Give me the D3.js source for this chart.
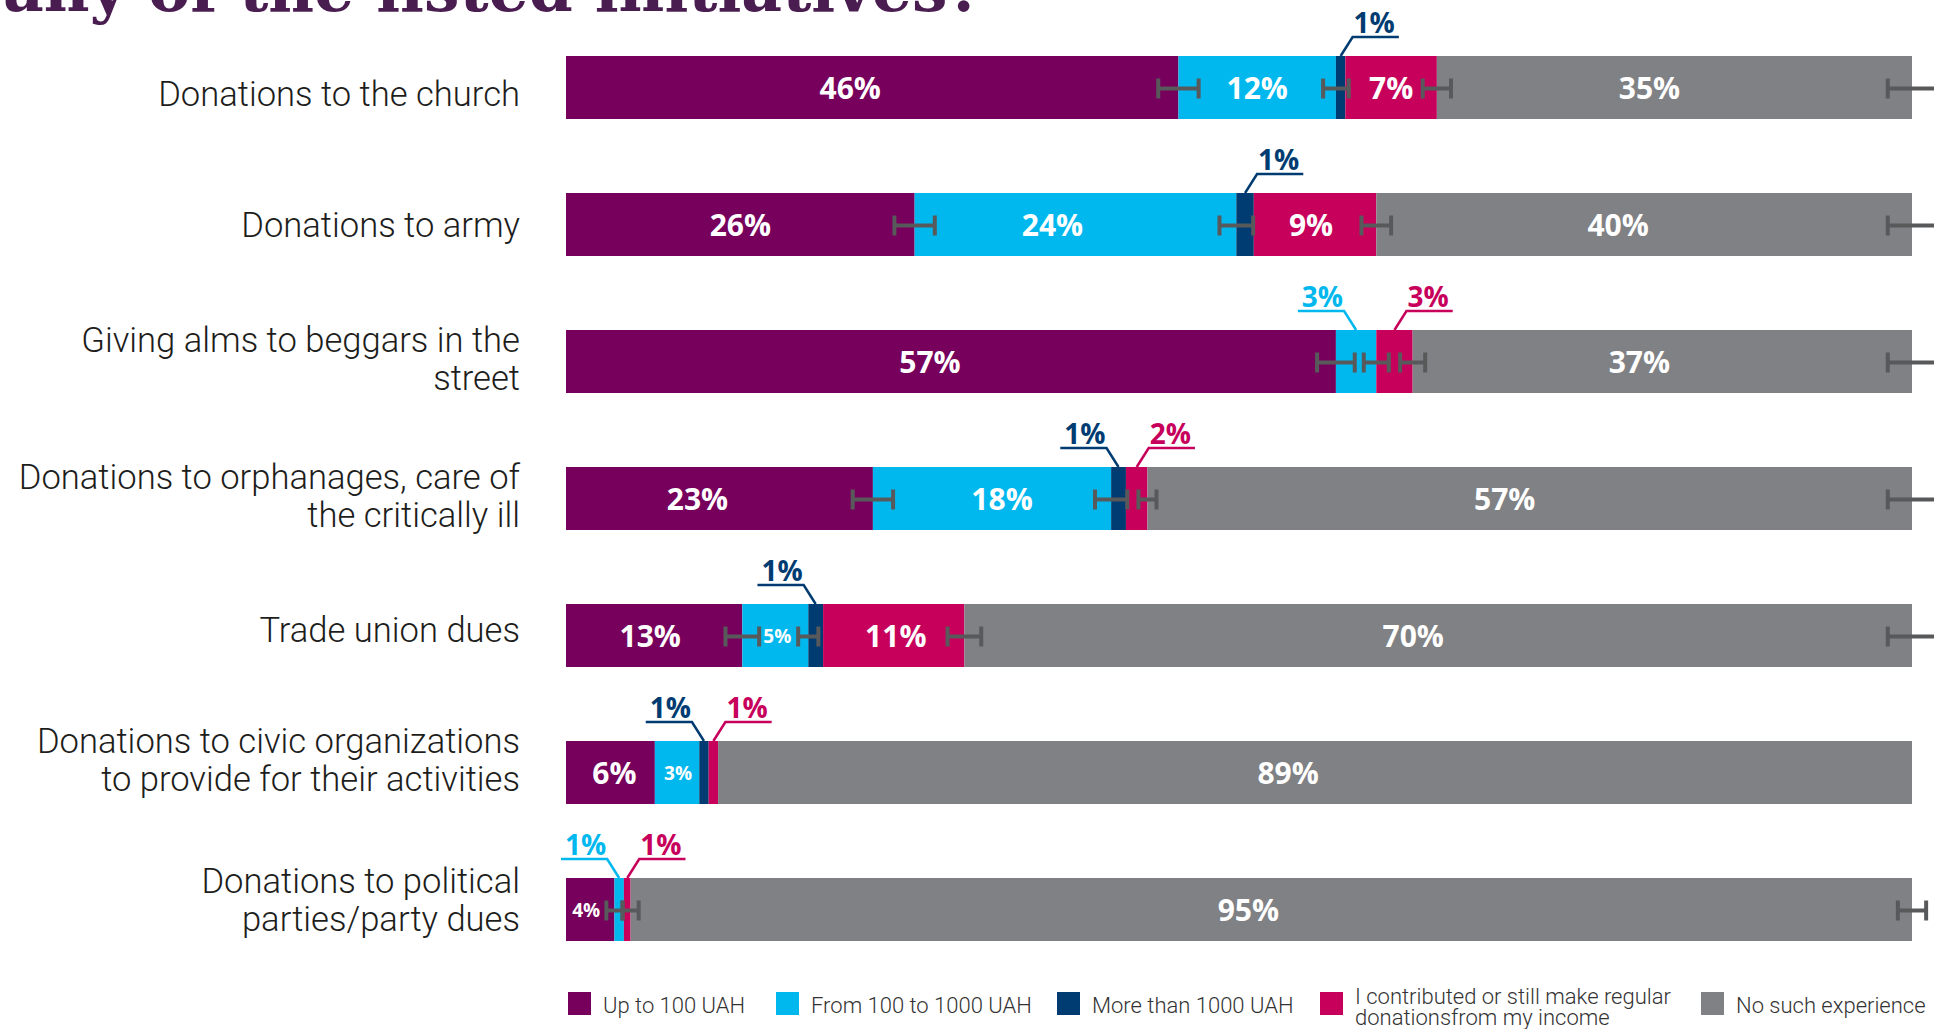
<!DOCTYPE html>
<html>
<head>
<meta charset="utf-8">
<script src="https://cdn.jsdelivr.net/npm/d3@7"></script>
<style>
  html, body { margin: 0; padding: 0; background: #ffffff; overflow: hidden; }
  svg { display: block; }
</style>
</head>
<body>
<div id="chart"></div>
<script>
// ---------------- DATA ----------------
const titleText = "any of the listed initiatives?";

const categories = [
  "Donations to the church",
  "Donations to army",
  "Giving alms to beggars in the\nstreet",
  "Donations to orphanages, care of\nthe critically ill",
  "Trade union dues",
  "Donations to civic organizations\nto provide for their activities",
  "Donations to political\nparties/party dues"
];

const seriesNames = [
  "Up to 100 UAH",
  "From 100 to 1000 UAH",
  "More than 1000 UAH",
  "I contributed or still make regular\ndonationsfrom my income",
  "No such experience"
];

// shares (% of respondents)
const upTo100       = [45.5, 25.9, 57.2, 22.8, 13.1, 6.6, 3.6];
const from100to1000 = [11.7, 23.9, 3.0, 17.7, 4.9, 3.3, 0.7];
const over1000      = [0.7, 1.3, 0.0, 1.1, 1.1, 0.7, 0.0];
const regularIncome = [6.8, 9.1, 2.7, 1.6, 10.5, 0.7, 0.5];
const noExperience  = [35.3, 39.8, 37.1, 56.8, 70.4, 88.7, 95.2];

// printed labels
const labelsUpTo100   = ["46%", "26%", "57%", "23%", "13%", "6%", "4%"];
const labelsFrom100   = ["12%", "24%", "3%", "18%", "5%", "3%", "1%"];
const labelsOver1000  = ["1%", "1%", "", "1%", "1%", "1%", ""];
const labelsRegular   = ["7%", "9%", "3%", "2%", "11%", "1%", "1%"];
const labelsNone      = ["35%", "40%", "37%", "57%", "70%", "89%", "95%"];

// labels printed above the bar with a leader line (side of the leader)
const calloutUpTo100  = [null, null, null, null, null, null, null];
const calloutFrom100  = [null, null, "left", null, null, null, "left"];
const calloutOver1000 = ["right", "right", null, "left", "left", "left", null];
const calloutRegular  = [null, null, "right", "right", null, "right", "right"];
const calloutNone     = [null, null, null, null, null, null, null];

// margins of error (± percentage points) shown at the end of each segment
const moeUpTo100  = [1.5, 1.5, 1.4, 1.5, 1.25, null, 0.6];
const moeFrom100  = [0.95, 1.25, 0.93, 1.2, 0.75, null, null];
const moeOver1000 = [null, null, null, null, null, null, null];
const moeRegular  = [1.05, 1.1, 0.93, 0.67, 1.25, null, 0.6];
const moeNone     = [1.8, 1.8, 1.8, 1.8, 1.8, null, 1.05];

// ---------------- LAYOUT (label nudges, px) ----------------
const nudgeUpTo100 = [-22, 0, -21, -22, -4, 4, -4];
const nudgeFrom100 = [0, -23, 0, 10, 2, 1, 0];
const nudgeOver1000 = [0, 0, 0, 0, 0, 0, 0];
const nudgeRegular = [0, -4, 0, 0, 2, 0, 0];
const nudgeNone = [-25, -26, -23, -25, -25, -27, -23];
const catLabelDy = [0, -6, 0, 0, -12, -10, -7];
const legendX = [568, 776, 1057, 1320, 1701];

// ---------------- BUILD ----------------
const keys = ["s0", "s1", "s2", "s3", "s4"];
const valueArrays = [upTo100, from100to1000, over1000, regularIncome, noExperience];
const labelArrays = [labelsUpTo100, labelsFrom100, labelsOver1000, labelsRegular, labelsNone];
const calloutArrays = [calloutUpTo100, calloutFrom100, calloutOver1000, calloutRegular, calloutNone];
const moeArrays = [moeUpTo100, moeFrom100, moeOver1000, moeRegular, moeNone];
const nudgeArrays = [nudgeUpTo100, nudgeFrom100, nudgeOver1000, nudgeRegular, nudgeNone];
const colors = ["#76005b", "#00b8ee", "#003c71", "#c6005b", "#808184"];

const table = categories.map((c, i) => {
  const row = { idx: i, category: c };
  keys.forEach((k, j) => row[k] = valueArrays[j][i]);
  return row;
});

const W = 1934, H = 1029;
const svg = d3.select("#chart").append("svg").attr("width", W).attr("height", H);

const x = d3.scaleLinear().domain([0, 100]).range([566, 1912]);
const y = d3.scalePoint().domain(d3.range(categories.length)).range([87.5, 909.5]);
const barH = 63;
const color = d3.scaleOrdinal().domain(keys).range(colors);

const stacked = d3.stack().keys(keys)(table);

// Title (cut by the top edge)
svg.append("text")
  .attr("x", 3).attr("y", 11)
  .attr("font-family", "'DejaVu Serif', 'Liberation Serif', serif")
  .attr("font-weight", "bold")
  .attr("font-size", 63)
  .attr("fill", "#4a1d51")
  .text(titleText);

// Category labels
const catG = svg.append("g");
categories.forEach((c, i) => {
  const lines = c.split("\n");
  const t = catG.append("text")
    .attr("text-anchor", "end")
    .attr("font-family", "Roboto, 'Open Sans', sans-serif")
    .attr("font-weight", 300)
    .attr("font-size", 34.6)
    .attr("fill", "#1d1d1b");
  const first = y(i) + 18 + catLabelDy[i] - (lines.length - 1) * 28;
  lines.forEach((ln, k) => {
    t.append("tspan").attr("x", 520).attr("y", first + k * 38).text(ln);
  });
});

// Bars
const layers = svg.append("g").selectAll("g").data(stacked).join("g")
  .attr("fill", d => color(d.key));
layers.selectAll("rect").data(d => d).join("rect")
  .attr("x", d => x(d[0]))
  .attr("width", d => Math.max(0, x(d[1]) - x(d[0])))
  .attr("y", d => y(d.data.idx) - barH / 2)
  .attr("height", barH);

// Error bars
const errG = svg.append("g").attr("stroke", "#58595b").attr("stroke-width", 4).attr("fill", "none");
stacked.forEach((layer, j) => {
  layer.forEach(d => {
    const i = d.data.idx;
    const m = moeArrays[j][i];
    if (m == null) return;
    const cy = y(i) + 1;
    const x0 = x(d[1] - m), x1 = x(d[1] + m);
    errG.append("line").attr("x1", x0).attr("x2", x1).attr("y1", cy).attr("y2", cy);
    errG.append("line").attr("x1", x0).attr("x2", x0).attr("y1", cy - 10).attr("y2", cy + 10);
    errG.append("line").attr("x1", x1).attr("x2", x1).attr("y1", cy - 10).attr("y2", cy + 10);
  });
});

// Value labels
const labG = svg.append("g").attr("font-family", "'Open Sans', Roboto, sans-serif").attr("font-weight", 700);
stacked.forEach((layer, j) => {
  layer.forEach(d => {
    const i = d.data.idx;
    const lab = labelArrays[j][i];
    if (!lab) return;
    const cx = (x(d[0]) + x(d[1])) / 2;
    const side = calloutArrays[j][i];
    if (!side) {
      const small = (d[1] - d[0]) < 5.5;
      labG.append("text")
        .attr("x", cx + nudgeArrays[j][i]).attr("y", y(i) + (small ? 7 : 11))
        .attr("text-anchor", "middle")
        .attr("font-size", small ? 19 : 30)
        .attr("fill", "#ffffff")
        .text(lab);
    } else {
      const top = y(i) - barH / 2;
      const dir = side === "right" ? 1 : -1;
      const kx = cx + dir * 12, ky = top - 19;
      const t = labG.append("text")
        .attr("x", kx + dir * 1).attr("y", top - 23)
        .attr("text-anchor", side === "right" ? "start" : "end")
        .attr("font-size", 28)
        .attr("fill", color(keys[j]))
        .text(lab);
      const tw = t.node().getComputedTextLength();
      const ex = kx + dir * (tw + 5);
      labG.append("path")
        .attr("d", `M${cx},${top}L${kx},${ky}L${ex},${ky}`)
        .attr("fill", "none")
        .attr("stroke", color(keys[j]))
        .attr("stroke-width", 2.5);
    }
  });
});

// Legend
const legG = svg.append("g")
  .attr("font-family", "Roboto, 'Open Sans', sans-serif")
  .attr("font-weight", 300)
  .attr("font-size", 22)
  .attr("fill", "#333333");
seriesNames.forEach((name, j) => {
  const lx = legendX[j];
  legG.append("rect").attr("x", lx).attr("y", 992).attr("width", 23).attr("height", 23).attr("fill", colors[j]);
  const lines = name.split("\n");
  const t = legG.append("text");
  const base = lines.length === 1 ? 1013 : 1004;
  lines.forEach((ln, k) => {
    t.append("tspan").attr("x", lx + 35).attr("y", base + k * 21).text(ln);
  });
});
</script>
</body>
</html>
